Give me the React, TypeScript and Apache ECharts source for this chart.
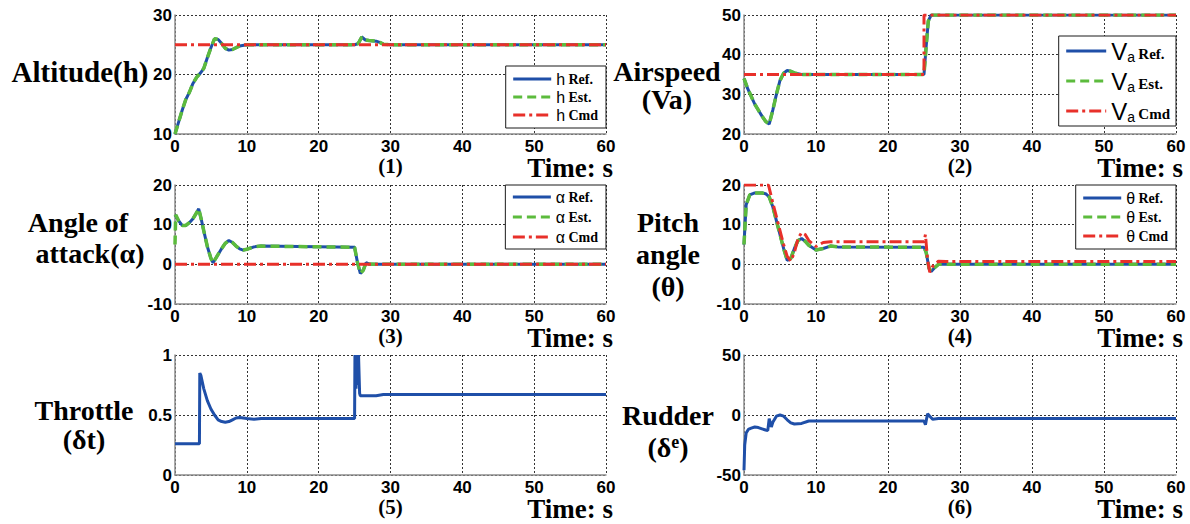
import React, { useEffect, useRef } from 'react';
import * as echarts from 'echarts';

// ---------- data ----------
const xTickInterval = 10;

// (1) Altitude
const hTime = [0, 0.5, 1, 1.5, 2, 2.5, 3, 3.5, 4, 4.5, 5, 5.5, 6, 6.5, 7, 7.5, 8, 9, 10, 12, 25, 25.5, 26, 26.5, 27, 28, 28.5, 29, 30, 60];
const hRef = [10, 12, 14, 15.8, 17, 18.5, 19.5, 20.2, 21, 22.8, 24.5, 26, 25.9, 25.2, 24.4, 24.1, 24.2, 24.8, 25, 25, 25, 25.2, 26.3, 25.8, 25.7, 25.6, 25.4, 25.1, 25, 25];
const hEst = [10, 12, 14, 15.8, 17, 18.5, 19.5, 20.2, 21, 22.8, 24.5, 26, 25.9, 25.2, 24.4, 24.1, 24.2, 24.8, 25, 25, 25, 25.2, 26.3, 25.8, 25.7, 25.6, 25.4, 25.1, 25, 25];
const hCmdTime = [0, 60];
const hCmd = [25, 25];

// (2) Airspeed
const vaTime = [0, 0.5, 1, 1.5, 2, 2.5, 3, 3.5, 4, 4.5, 5, 5.5, 6, 6.5, 7, 8, 10, 25, 25.3, 25.6, 26, 60];
const vaRef = [34, 31.5, 29.5, 27.5, 26, 24.5, 23.2, 22.5, 26, 30, 33.5, 35.3, 36, 35.8, 35.4, 35, 35, 35, 42, 48.5, 50, 50];
const vaEst = [34, 31.5, 29.5, 27.5, 26, 24.5, 23.2, 22.5, 26, 30, 33.5, 35.3, 36, 35.8, 35.4, 35, 35, 35, 42, 48.5, 50, 50];
const vaCmdTime = [0, 25, 25, 60];
const vaCmd = [35, 35, 50, 50];

// (3) Angle of attack
const aTime = [0, 0.5, 1, 1.5, 2, 2.5, 3, 3.3, 3.7, 4, 4.5, 5, 5.3, 6, 6.5, 7, 7.5, 8, 8.5, 9, 9.5, 10, 11, 12, 25, 25.4, 25.8, 26.2, 26.6, 27, 28, 60];
const aRef = [12.5, 11, 9.8, 9.8, 10.5, 11.5, 13, 14, 11, 8.5, 4.5, 1.5, 0.4, 2.5, 4, 5.3, 6, 5.5, 4.6, 3.9, 3.6, 3.8, 4.4, 4.6, 4.3, 0.5, -2.3, -1.5, 0.4, 0.1, 0, 0];
const aEstTime = [0, 0.1, 0.5, 1, 1.5, 2, 2.5, 3, 3.3, 3.7, 4, 4.5, 5, 5.3, 6, 6.5, 7, 7.5, 8, 8.5, 9, 9.5, 10, 11, 12, 25, 25.4, 25.8, 26.2, 26.6, 27, 28, 60];
const aEst = [5, 12.5, 11, 9.8, 9.8, 10.5, 11.5, 13, 14, 11, 8.5, 4.5, 1.5, 0.4, 2.5, 4, 5.3, 6, 5.5, 4.6, 3.9, 3.6, 3.8, 4.4, 4.6, 4.3, 0.5, -2.3, -1.5, 0.4, 0.1, 0, 0];
const aCmdTime = [0, 60];
const aCmd = [0, 0];

// (4) Pitch angle
const thTime = [0, 0.3, 0.8, 1.5, 2.5, 3, 3.5, 4, 4.5, 5, 5.5, 6, 6.5, 7, 7.5, 8, 8.5, 9, 10, 11, 12, 13, 25, 25.3, 25.7, 26, 26.5, 27, 28, 60];
const thRef = [5, 15, 17.5, 18, 18, 17.8, 17, 14.5, 11, 7.5, 4, 1, 1.5, 4, 6, 6.5, 5.8, 4.8, 3.6, 4, 4.6, 4.4, 4.3, 3, -1, -1.8, -0.8, 0, 0, 0];
const thEst = [5, 15, 17.5, 18, 18, 17.8, 17, 14.5, 11, 7.5, 4, 1, 1.5, 4, 6, 6.5, 5.8, 4.8, 3.6, 4, 4.6, 4.4, 4.3, 3, -1, -1.8, -0.8, 0, 0, 0];
const thCmdTime = [0, 3.4, 4, 4.5, 5, 5.5, 6, 6.5, 7, 7.5, 8, 8.5, 9, 10, 11, 12, 25, 25.2, 25.5, 25.8, 26.2, 27, 28, 60];
const thCmd = [20, 20, 15.5, 12, 8.5, 5, 2, 0.8, 3, 6.5, 8, 7.5, 6, 4.5, 5.5, 5.7, 5.7, 7.5, 1, -2, -0.5, 0.8, 0.7, 0.7];

// (5) Throttle
const thrTime = [0, 3.4, 3.45, 3.6, 4, 4.5, 5, 5.5, 6, 6.5, 7, 7.5, 8, 8.5, 9, 10, 11, 12, 25, 25.05, 25.2, 25.3, 25.45, 25.55, 25.7, 25.8, 28, 29, 60];
const thr = [0.26, 0.26, 0.85, 0.83, 0.72, 0.62, 0.55, 0.5, 0.46, 0.445, 0.44, 0.445, 0.46, 0.475, 0.48, 0.47, 0.465, 0.47, 0.47, 1, 0.72, 1, 0.75, 1, 0.68, 0.66, 0.66, 0.67, 0.67];

// (6) Rudder
const rudTime = [0, 0.1, 0.3, 0.6, 1, 1.5, 2, 2.5, 3, 3.3, 3.5, 3.8, 4, 4.5, 5, 5.5, 6, 6.5, 7, 8, 9, 10, 12, 25, 25.2, 25.5, 25.8, 26.2, 27, 60];
const rud = [-46, -25, -15, -12, -11, -10, -10.5, -11.5, -12.5, -13, -3, -10, -6, -1, 0, -1, -4, -6.5, -7.5, -7, -5, -5, -5, -5, -8, 1, -1, -3.5, -3, -3];

// axis ranges per panel: [min, max, interval]
const yRanges = [
  [10, 30, 10],
  [20, 50, 10],
  [-10, 20, 10],
  [-10, 20, 10],
  [0, 1, 0.5],
  [-50, 50, 50],
];

const panelTags = ['(1)', '(2)', '(3)', '(4)', '(5)', '(6)'];

// ---------- styling ----------
const BLUE = '#1f4fa8';
const GREEN = '#5cbb3d';
const RED = '#e8302a';
const SERIF = 'Liberation Serif';
const SANS = 'Liberation Sans';

const gridBoxes = [
  { left: 175, top: 15, width: 431, height: 119 },
  { left: 744, top: 15, width: 432, height: 119 },
  { left: 175, top: 185, width: 431, height: 119 },
  { left: 744, top: 185, width: 432, height: 119 },
  { left: 175, top: 355, width: 431, height: 120 },
  { left: 744, top: 355, width: 432, height: 120 },
];

const zip = (t: number[], v: number[]) => t.map((x, i) => [x, v[i]]);

const dotted = { type: [2, 2], color: '#333', width: 1 };

function lineSeries(name: string, idx: number, data: number[][], kind: 'ref' | 'est' | 'cmd' | 'plain') {
  const ls: any =
    kind === 'ref' || kind === 'plain'
      ? { color: BLUE, width: 3, type: 'solid' }
      : kind === 'est'
      ? { color: GREEN, width: 3.5, type: [9, 5] }
      : { color: RED, width: 3, type: [12, 4, 3, 4] };
  return {
    type: 'line',
    name,
    xAxisIndex: idx,
    yAxisIndex: idx,
    data,
    showSymbol: false,
    symbol: 'none',
    color: ls.color,
    lineStyle: ls,
    silent: true,
  };
}

const legendRich = {
  s: { fontFamily: SANS, fontSize: 16, color: '#000', lineHeight: 19 },
  b: { fontFamily: SERIF, fontWeight: 'bold', fontSize: 14, color: '#000', lineHeight: 19 },
  v: { fontFamily: SANS, fontSize: 24, color: '#000', lineHeight: 28 },
  sub: { fontFamily: SANS, fontSize: 14, color: '#000', padding: [12, 0, 0, 0], lineHeight: 28 },
  bb: { fontFamily: SERIF, fontWeight: 'bold', fontSize: 15, color: '#000', padding: [6, 0, 0, 0], lineHeight: 28 },
};

const legendFormatter = (name: string) => {
  const parts = name.split(' ');
  const sym = parts[0];
  const lab = parts.slice(1).join(' ');
  if (sym === 'Va') return `{v|V}{sub|a} {bb|${lab}}`;
  return `{s|${sym}} {b|${lab}}`;
};

function makeLegend(names: string[], right: number, top: number, gap: number, padding: number[], itemWidth: number) {
  return {
    data: names,
    orient: 'vertical',
    right,
    top,
    itemWidth,
    itemHeight: 14,
    itemGap: gap,
    padding,
    backgroundColor: '#fff',
    borderColor: '#1a1a1a',
    borderWidth: 1,
    borderRadius: 0,
    selectedMode: false,
    lineStyle: { width: 3 },
    itemStyle: { opacity: 0, borderWidth: 0 },
    formatter: legendFormatter,
    textStyle: { rich: legendRich },
  };
}

function txt(text: string, x: number, y: number, size: number, align = 'center', family = SERIF, rich?: any) {
  const style: any = {
    text,
    fill: '#000',
    fontFamily: family,
    fontSize: size,
    fontWeight: 'bold',
    align,
    verticalAlign: 'middle',
  };
  if (rich) style.rich = rich;
  return { type: 'text', x, y, silent: true, style };
}

export default function App() {
  const ref = useRef<HTMLDivElement>(null);

  useEffect(() => {
    document.body.style.margin = '0';
    if (!ref.current) return;
    const chart = echarts.init(ref.current, undefined, { renderer: 'svg' });

    const xAxes = gridBoxes.map((_, i) => ({
      type: 'value',
      gridIndex: i,
      min: 0,
      max: 60,
      interval: xTickInterval,
      axisLine: { show: true, onZero: false, lineStyle: { color: '#8c8c8c', width: 1.5 } },
      axisTick: { show: false },
      axisLabel: { fontFamily: SANS, fontWeight: 'bold', fontSize: 17, color: '#000', margin: 4 },
      splitLine: { show: true, lineStyle: dotted },
    }));

    const yAxes = gridBoxes.map((_, i) => ({
      type: 'value',
      gridIndex: i,
      min: yRanges[i][0],
      max: yRanges[i][1],
      interval: yRanges[i][2],
      axisLine: { show: true, onZero: false, lineStyle: { color: '#8c8c8c', width: 1.5 } },
      axisTick: { show: false },
      axisLabel: { fontFamily: SANS, fontWeight: 'bold', fontSize: 17, color: '#000', margin: 3 },
      splitLine: { show: true, lineStyle: dotted },
    }));

    const series = [
      lineSeries('h Ref.', 0, zip(hTime, hRef), 'ref'),
      lineSeries('h Est.', 0, zip(hTime, hEst), 'est'),
      lineSeries('h Cmd', 0, zip(hCmdTime, hCmd), 'cmd'),
      lineSeries('Va Ref.', 1, zip(vaTime, vaRef), 'ref'),
      lineSeries('Va Est.', 1, zip(vaTime, vaEst), 'est'),
      lineSeries('Va Cmd', 1, zip(vaCmdTime, vaCmd), 'cmd'),
      lineSeries('α Ref.', 2, zip(aTime, aRef), 'ref'),
      lineSeries('α Est.', 2, zip(aEstTime, aEst), 'est'),
      lineSeries('α Cmd', 2, zip(aCmdTime, aCmd), 'cmd'),
      lineSeries('θ Ref.', 3, zip(thTime, thRef), 'ref'),
      lineSeries('θ Est.', 3, zip(thTime, thEst), 'est'),
      lineSeries('θ Cmd', 3, zip(thCmdTime, thCmd), 'cmd'),
      lineSeries('Throttle', 4, zip(thrTime, thr), 'plain'),
      lineSeries('Rudder', 5, zip(rudTime, rud), 'plain'),
    ];

    const legends = [
      makeLegend(['h Ref.', 'h Est.', 'h Cmd'], 1190 - 606, 66, 2, [5, 8, 5, 6], 38),
      makeLegend(['Va Ref.', 'Va Est.', 'Va Cmd'], 1190 - 1176, 36, 4, [2, 6, 2, 6], 40),
      makeLegend(['α Ref.', 'α Est.', 'α Cmd'], 1190 - 606, 185, 4, [4, 8, 4, 6], 38),
      makeLegend(['θ Ref.', 'θ Est.', 'θ Cmd'], 1190 - 1176, 185, 3, [5, 8, 5, 6], 38),
    ];

    const supRich = {
      p: { fontFamily: SERIF, fontWeight: 'bold', fontSize: 28, fill: '#000', color: '#000', lineHeight: 28 },
      sup: { fontFamily: SERIF, fontWeight: 'bold', fontSize: 18, fill: '#000', color: '#000', padding: [0, 0, 10, 0], lineHeight: 18 },
    };

    const graphic: any[] = [
      txt('Altitude(h)', 80, 72, 29),
      txt('Airspeed', 667, 71, 28),
      txt('(Va)', 667, 99, 28),
      txt('Angle of', 78, 222, 28),
      txt('attack(α)', 90, 253, 28),
      txt('Pitch', 668, 222, 28),
      txt('angle', 668, 254, 28),
      txt('(θ)', 668, 286, 28),
      txt('Throttle', 84, 410, 28),
      txt('(δt)', 84, 439, 28),
      txt('Rudder', 668, 415, 28),
      txt('{p|(δ}{sup|e}{p|)}', 668, 447, 28, 'center', SERIF, supRich),
    ];
    gridBoxes.forEach((g, i) => {
      const rowY = g.top + g.height;
      graphic.push(txt(panelTags[i], g.left + g.width / 2, rowY + 32, 21));
      graphic.push(txt('Time: s', g.left + g.width + 7, rowY + 34, 27, 'right'));
    });

    chart.setOption({
      animation: false,
      backgroundColor: '#fff',
      grid: gridBoxes.map((g) => ({ ...g, containLabel: false })),
      xAxis: xAxes,
      yAxis: yAxes,
      legend: legends,
      series,
      graphic,
    });

    return () => chart.dispose();
  }, []);

  return <div ref={ref} style={{ width: 1190, height: 524 }} />;
}
